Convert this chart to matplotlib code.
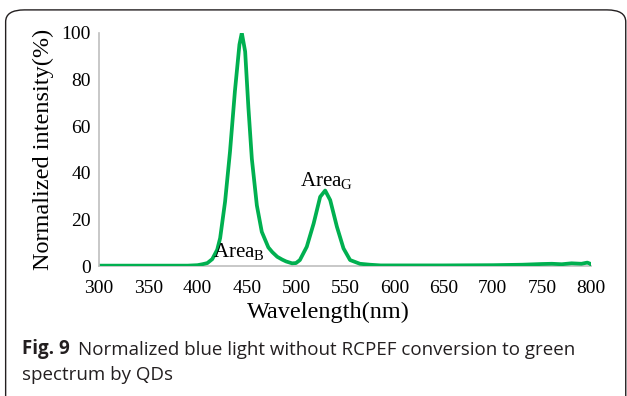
import matplotlib.pyplot as plt
from matplotlib.patches import FancyBboxPatch

# --- DATA ---
wavelength = [300, 330, 360, 390, 400, 405, 410, 415, 420, 423, 428, 433, 438, 442.6,
              445, 448.4, 451.7, 455.2, 460.3, 465.3, 472, 476, 481, 486, 490, 496,
              500, 504, 511, 518, 524.6, 529.7, 534.8, 541.6, 548.3, 555, 565, 575,
              586, 600, 650, 700, 730, 750, 760, 770, 780, 790, 796, 799, 801]
intensity = [0.2, 0.2, 0.2, 0.2, 0.4, 0.8, 1.3, 3, 7, 12, 27.6, 49, 75, 95,
             100, 92, 68, 46, 26, 14.7, 8, 6, 4, 2.8, 2, 1.2,
             1.3, 2.6, 8.3, 18.3, 29.7, 32.4, 28.3, 16.9, 7.6, 2.6, 1, 0.6,
             0.3, 0.3, 0.3, 0.4, 0.6, 0.9, 1.0, 0.8, 1.2, 1.0, 1.5, 1.0, 0.0]
xticks = [300, 350, 400, 450, 500, 550, 600, 650, 700, 750, 800]
yticks = [0, 20, 40, 60, 80, 100]

serif = "Liberation Serif"
sans = "Open Sans"

# --- PLOTTING ---
fig = plt.figure(figsize=(6.27, 3.96), dpi=100)
ax = fig.add_axes([0.158, 0.328, 0.785, 0.589])

ax.plot(wavelength, intensity, color="#00b050", lw=2.7,
        solid_capstyle="round", solid_joinstyle="round")
ax.set_xlim(300, 800)
ax.set_ylim(0, 100)
ax.set_xticks(xticks)
ax.set_yticks(yticks)
ax.tick_params(length=0, labelsize=14)
ax.tick_params(axis="y", pad=6)
ax.tick_params(axis="x", pad=10)
for lab in ax.get_xticklabels() + ax.get_yticklabels():
    lab.set_fontfamily(serif)
for s in ["top", "right"]:
    ax.spines[s].set_visible(False)
for s in ["left", "bottom"]:
    ax.spines[s].set_color("#bfbfbf")
    ax.spines[s].set_linewidth(1.2)
ax.spines["bottom"].set_zorder(0)

ax.set_xlabel("Wavelength(nm)", fontsize=17.5, family=serif, labelpad=3)
ax.xaxis.set_label_coords(0.465, -0.2)
ax.xaxis.label.set_va("center")
ax.set_ylabel("Normalized intensity(%)", fontsize=17.5, family=serif, labelpad=5)

ax.text(415.8, 3.9, r"Area$_\mathregular{B}$", fontsize=15, family=serif)
ax.text(504, 34, r"Area$_\mathregular{G}$", fontsize=15, family=serif)

# caption
fig_lbl = fig.text(0.035, 0.107, "Fig. 9", fontsize=13.5, family=sans, weight="bold",
                   color="#231f20")
ax.annotate("Normalized blue light without RCPEF conversion to green",
            xy=(1, 0), xycoords=fig_lbl, xytext=(6, 0), textcoords="offset points",
            fontsize=13.5, family=sans, color="#231f20", va="bottom",
            annotation_clip=False)
fig.text(0.035, 0.04, "spectrum by QDs", fontsize=13.5, family=sans, color="#231f20")

# rounded frame
frame = FancyBboxPatch((0.009, -0.05), 0.989, 1.025, transform=fig.transFigure,
                       boxstyle="round,pad=0,rounding_size=0.03",
                       fill=False, ec="#231f20", lw=1.0, clip_on=False)
fig.patches.append(frame)

fig.savefig("out.png", dpi=100)
